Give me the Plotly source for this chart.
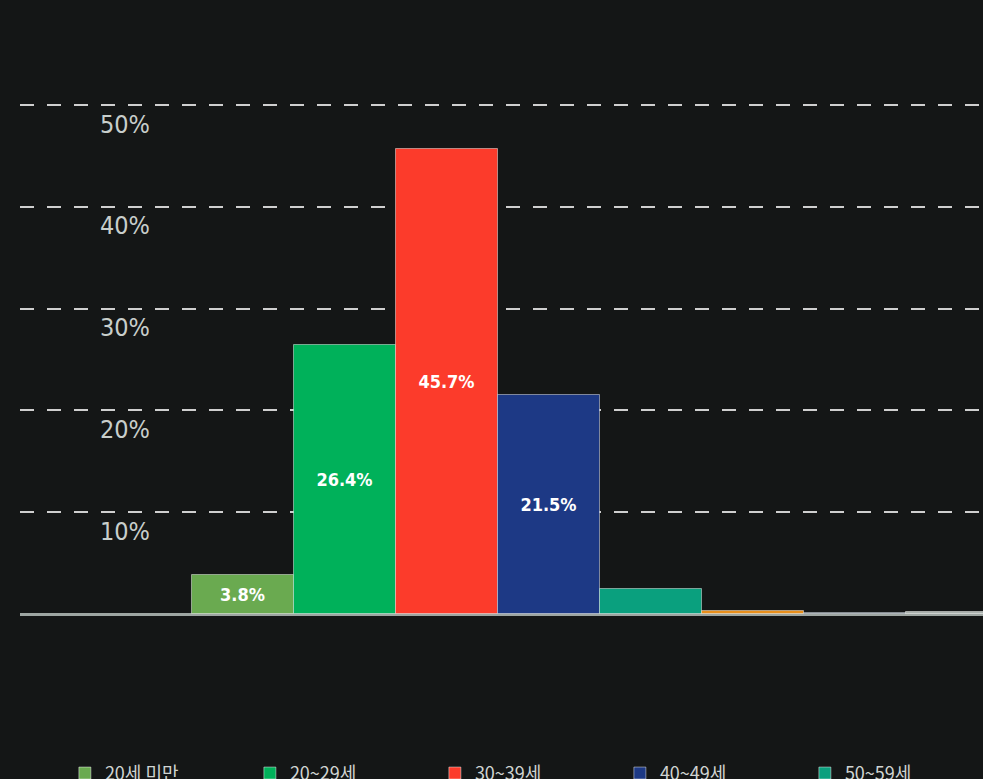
import plotly.graph_objects as go

categories = ["20세 미만", "20~29세", "30~39세", "40~49세", "50~59세", "60~69세", "70~79세", "80세 이상"]
values = [3.8, 26.4, 45.7, 21.5, 2.5, 0.3, 0.1, 0.2]
show_label = [True, True, True, True, False, False, False, False]
colors = ["#6aaa50", "#00b15a", "#fc3b2b", "#1d3985", "#0aa07e", "#e88f1c", "#34475a", "#a9b1ad"]
ytick_vals = [10, 20, 30, 40, 50]
ytick_text = ["10%", "20%", "30%", "40%", "50%"]

fig = go.Figure()
for name, v, lab, c in zip(categories, values, show_label, colors):
    fig.add_trace(go.Bar(
        x=[0], y=[v], name=name,
        marker=dict(color=c, line=dict(color="rgba(255,255,255,0.45)", width=1)),
        text=[f"{v}%" if lab else ""],
        textposition="inside", insidetextanchor="middle",
        textfont=dict(color="white", size=18, family="DejaVu Sans Condensed", weight="bold"),
        textangle=0,
        hoverinfo="skip",
    ))

fig.update_layout(
    width=983, height=779,
    paper_bgcolor="#141616", plot_bgcolor="#141616",
    barmode="group", bargap=0, bargroupgap=0,
    margin=dict(l=20, r=0, t=0, b=165, autoexpand=False),
    showlegend=True,
    legend=dict(
        orientation="h", xref="container", yref="container",
        x=0.066, y=0.031, xanchor="left", yanchor="top",
        entrywidth=140, entrywidthmode="pixels",
        font=dict(color="#d0d4d2", size=18, family="Noto Sans CJK KR"),
        bgcolor="rgba(0,0,0,0)",
    ),
)
fig.update_xaxes(
    range=[-0.7108, 0.4694], showticklabels=False, showgrid=False,
    zeroline=False, showline=False, fixedrange=True,
)
fig.update_yaxes(
    range=[0, 60.3], tickvals=ytick_vals, ticktext=ytick_text,
    showgrid=True, gridcolor="#cfcfcf", gridwidth=2, griddash="14px,13px",
    zeroline=True, zerolinecolor="#9ea6a2", zerolinewidth=3,
    showline=False, ticks="",
    ticklabelposition="inside", ticklabelstandoff=77, ticklabelshift=19,
    tickfont=dict(color="#c8cecb", size=25, family="DejaVu Sans Condensed"),
)

fig.write_html(
    "out.html",
    config={"displayModeBar": False},
    post_script="document.body.style.margin='0';document.body.style.background='#141616';",
)
